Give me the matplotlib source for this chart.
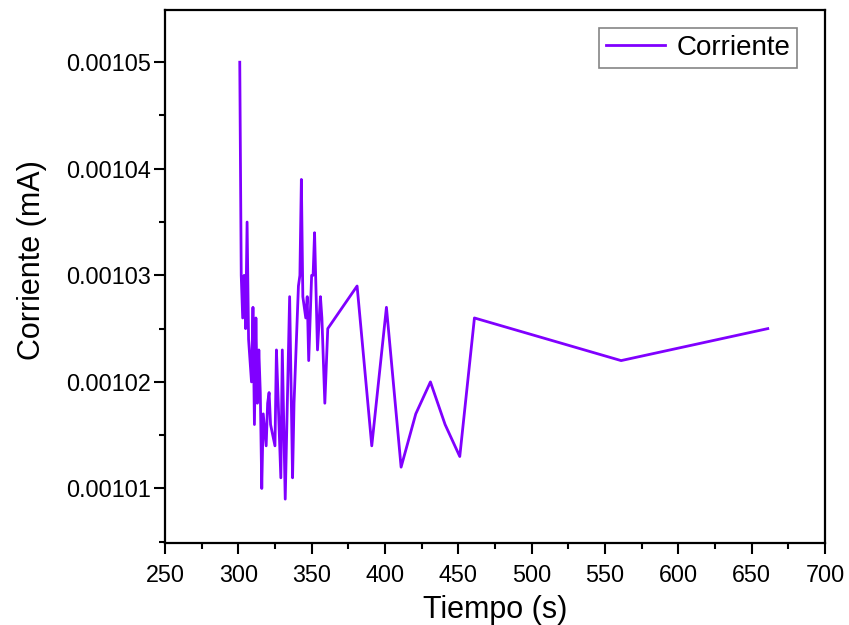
import matplotlib
matplotlib.use("Agg")
import matplotlib.pyplot as plt
from matplotlib.ticker import MultipleLocator, FormatStrFormatter

plt.rcParams['font.family'] = ['Liberation Sans', 'DejaVu Sans']

# datos
tiempo = [301, 302, 303, 304, 305, 306, 307, 309, 310, 311, 312, 313, 314, 315,
          316, 317, 319, 320, 321, 322, 325, 326, 327, 329, 330, 332,
          335, 337, 338, 341, 342, 343, 344, 346, 347, 348, 350, 351, 352,
          354, 356, 357, 359, 361, 381, 391, 401, 411, 421, 431, 441, 451,
          461, 561, 661]
corriente = [0.001050, 0.001030, 0.001026, 0.001030, 0.001025, 0.001035, 0.001024,
             0.001020, 0.001027, 0.001016, 0.001026, 0.001018, 0.001023, 0.001019,
             0.001010, 0.001017, 0.001014, 0.001018, 0.001019, 0.001016, 0.001014,
             0.001023, 0.001019, 0.001011, 0.001023, 0.001009,
             0.001028, 0.001011, 0.001018, 0.001029, 0.001030, 0.001039, 0.001028,
             0.001026, 0.001028, 0.001022, 0.001030, 0.001030, 0.001034,
             0.001023, 0.001028, 0.001026, 0.001018, 0.001025, 0.001029, 0.001014,
             0.001027, 0.001012, 0.001017, 0.001020, 0.001016, 0.001013,
             0.001026, 0.001022, 0.001025]

fig = plt.figure(figsize=(8.49, 6.25), dpi=100)
ax = fig.add_axes([0.1943, 0.1315, 0.7774, 0.8525])

ax.plot(tiempo, corriente, color='#8000FF', linewidth=2, label='Corriente')

ax.set_xlim(250, 700)
ax.set_ylim(0.0010049, 0.0010549)

ax.xaxis.set_major_locator(MultipleLocator(50))
ax.xaxis.set_minor_locator(MultipleLocator(25))
ax.yaxis.set_major_locator(MultipleLocator(0.00001))
ax.yaxis.set_minor_locator(MultipleLocator(0.000005))
ax.yaxis.set_major_formatter(FormatStrFormatter('%.5f'))

ax.tick_params(which='major', direction='out', length=8, width=1.5, labelsize=16.8)
ax.tick_params(which='minor', direction='out', length=4, width=1.5)
ax.tick_params(axis='y', which='major', pad=2)
ax.tick_params(axis='x', which='major', pad=7)
for s in ax.spines.values():
    s.set_linewidth(1.6)

ax.set_xlabel('Tiempo (s)', fontsize=22, labelpad=6)
ax.set_ylabel('Corriente (mA)', fontsize=22, labelpad=14)
ax.yaxis.label.set_y(0.53)

leg = ax.legend(loc='upper right', fontsize=20, frameon=True, fancybox=False,
                edgecolor='#666666', handlelength=2.15, handletextpad=0.4,
                borderpad=0.25, borderaxespad=0, bbox_to_anchor=(0.958, 0.966))
leg.get_frame().set_linewidth(1.2)

fig.savefig('out.png', dpi=100)
